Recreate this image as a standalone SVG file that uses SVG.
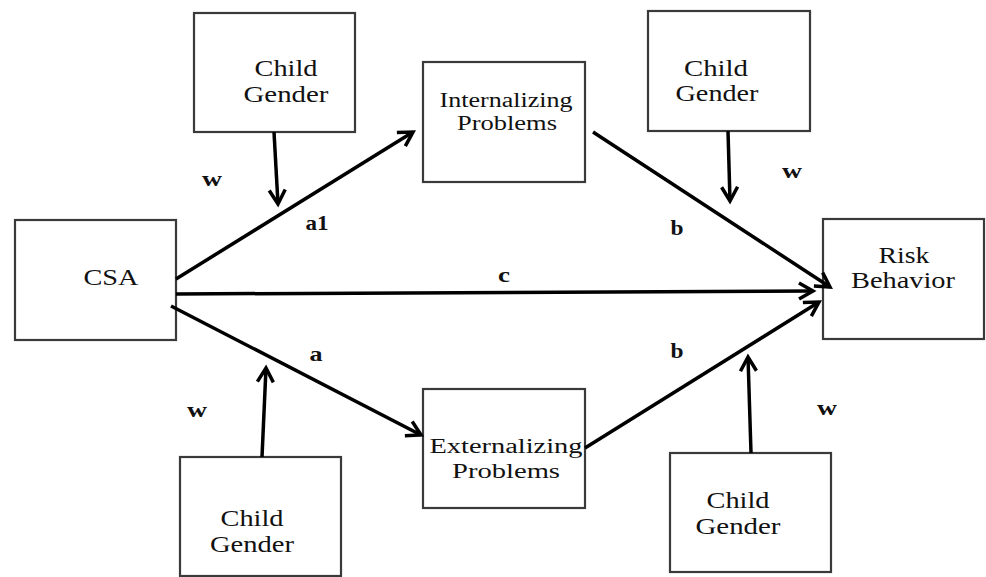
<svg xmlns="http://www.w3.org/2000/svg" width="986" height="577" viewBox="0 0 986 577">
<style>
.box{fill:#fff;stroke:#3a3a3a;stroke-width:2.2}
.t{font-family:"Liberation Serif","Times New Roman",serif;font-size:24px;fill:#111;text-anchor:middle}
.s{font-family:"Liberation Serif","Times New Roman",serif;font-size:20px;fill:#111;text-anchor:middle}
.l{font-family:"Liberation Serif","Times New Roman",serif;font-size:22px;font-weight:bold;fill:#111;text-anchor:middle}
.c{stroke:#000;stroke-width:3.5;fill:none;marker-end:url(#ah)}
</style>
<defs>
<marker id="ah" markerUnits="userSpaceOnUse" markerWidth="24" markerHeight="24" viewBox="-18 -12 24 24" refX="0" refY="0" orient="auto" overflow="visible">
<path d="M-14,-8 L0,0 L-14,8" fill="none" stroke="#000" stroke-width="3.5"/>
</marker>
</defs>
<rect width="986" height="577" fill="#fff"/>
<g id="cg-tl"><rect class="box" x="194" y="13" width="161" height="119"/><text class="t" x="286" y="76" textLength="63" lengthAdjust="spacingAndGlyphs">Child</text><text class="t" x="286" y="102" textLength="85" lengthAdjust="spacingAndGlyphs">Gender</text></g>
<g id="cg-tr"><rect class="box" x="648" y="11" width="162" height="120"/><text class="t" x="716" y="76" textLength="64" lengthAdjust="spacingAndGlyphs">Child</text><text class="t" x="717" y="101" textLength="83" lengthAdjust="spacingAndGlyphs">Gender</text></g>
<g id="internalizing"><rect class="box" x="423" y="62" width="162" height="120"/><text class="s" x="506" y="107" textLength="133" lengthAdjust="spacingAndGlyphs">Internalizing</text><text class="s" x="507" y="130" textLength="100" lengthAdjust="spacingAndGlyphs">Problems</text></g>
<g id="csa"><rect class="box" x="15" y="220" width="161" height="120"/><text class="t" x="111" y="285" textLength="55" lengthAdjust="spacingAndGlyphs">CSA</text></g>
<g id="risk"><rect class="box" x="823" y="219" width="161" height="120"/><text class="t" x="904" y="263" textLength="51" lengthAdjust="spacingAndGlyphs">Risk</text><text class="t" x="903" y="288" textLength="104" lengthAdjust="spacingAndGlyphs">Behavior</text></g>
<g id="externalizing"><rect class="box" x="423" y="389" width="162" height="119"/><text class="s" x="506" y="453" textLength="153" lengthAdjust="spacingAndGlyphs">Externalizing</text><text class="s" x="506" y="478" textLength="108" lengthAdjust="spacingAndGlyphs">Problems</text></g>
<g id="cg-bl"><rect class="box" x="180" y="457" width="161" height="119"/><text class="t" x="252" y="526" textLength="63" lengthAdjust="spacingAndGlyphs">Child</text><text class="t" x="252" y="552" textLength="84" lengthAdjust="spacingAndGlyphs">Gender</text></g>
<g id="cg-br"><rect class="box" x="670" y="453" width="161" height="119"/><text class="t" x="738" y="508" textLength="63" lengthAdjust="spacingAndGlyphs">Child</text><text class="t" x="738" y="534" textLength="85" lengthAdjust="spacingAndGlyphs">Gender</text></g>
<g id="connectors">
<line class="c" x1="176" y1="279" x2="413" y2="132"/>
<line class="c" x1="274" y1="132" x2="278" y2="204"/>
<line class="c" x1="593" y1="132" x2="830" y2="287"/>
<line class="c" x1="728" y1="131" x2="730" y2="201"/>
<line class="c" x1="176" y1="294" x2="813" y2="291"/>
<line class="c" x1="171" y1="306" x2="421" y2="435"/>
<line class="c" x1="262" y1="457" x2="266" y2="368"/>
<line class="c" x1="585" y1="448" x2="819" y2="302"/>
<line class="c" x1="751" y1="453" x2="748" y2="357"/>
</g>
<g id="labels">
<text class="l" x="212" y="186" textLength="20" lengthAdjust="spacingAndGlyphs">w</text>
<text class="l" x="317" y="230" textLength="23" lengthAdjust="spacingAndGlyphs">a1</text>
<text class="l" x="792" y="178" textLength="20" lengthAdjust="spacingAndGlyphs">w</text>
<text class="l" x="677" y="235" textLength="13" lengthAdjust="spacingAndGlyphs">b</text>
<text class="l" x="504" y="282" textLength="12" lengthAdjust="spacingAndGlyphs">c</text>
<text class="l" x="316" y="361" textLength="13" lengthAdjust="spacingAndGlyphs">a</text>
<text class="l" x="197" y="417" textLength="20" lengthAdjust="spacingAndGlyphs">w</text>
<text class="l" x="677" y="358" textLength="13" lengthAdjust="spacingAndGlyphs">b</text>
<text class="l" x="827" y="415" textLength="20" lengthAdjust="spacingAndGlyphs">w</text>
</g>
</svg>
